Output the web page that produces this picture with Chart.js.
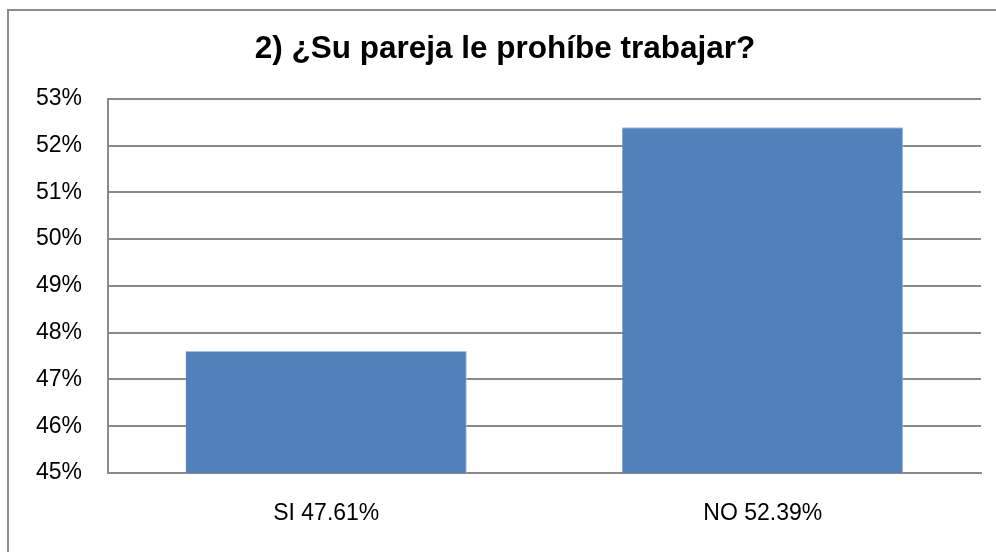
<!DOCTYPE html>
<html>
<head>
<meta charset="utf-8">
<script src="https://cdn.jsdelivr.net/npm/chart.js@4"></script>
<style>
  html, body { margin: 0; padding: 0; background: #fff; }
  #wrap { width: 996px; height: 552px; }
</style>
</head>
<body>
<div id="wrap"><canvas id="chart" width="996" height="552"></canvas></div>
<script>
const title = '2) ¿Su pareja le prohíbe trabajar?';
const categories = ['SI 47.61%', 'NO 52.39%'];
const values = [47.61, 52.39];
const yTicks = [45, 46, 47, 48, 49, 50, 51, 52, 53];

const tickFont = { family: "'Liberation Sans', Arial, sans-serif", size: 23 };
const gridColor = '#8a8a8a';

// outer frame of the chart (only left and top edges are inside the picture)
const frame = {
  id: 'frame',
  afterDraw(chart) {
    const ctx = chart.ctx;
    ctx.save();
    ctx.strokeStyle = '#8c8c8c';
    ctx.lineWidth = 2;
    ctx.strokeRect(8, 10, 1100, 1000);
    ctx.restore();
  }
};

const ctx = document.getElementById('chart').getContext('2d');
new Chart(ctx, {
  type: 'bar',
  data: {
    labels: categories,
    datasets: [{
      data: values,
      backgroundColor: '#4f81bd',
      borderColor: '#a9c1e3',
      borderWidth: { left: 0, right: 1, top: 1, bottom: 0 },
      barPercentage: 0.644,
      categoryPercentage: 1
    }]
  },
  options: {
    responsive: false,
    animation: false,
    layout: { padding: { top: 0, left: 14, right: 0, bottom: 0 } },
    plugins: {
      legend: { display: false },
      tooltip: { enabled: false },
      title: {
        display: true,
        text: title,
        color: '#000',
        font: { family: "'Liberation Sans', Arial, sans-serif", size: 31.5, weight: 'bold', lineHeight: 1.2 },
        padding: { top: 30, bottom: 31 }
      }
    },
    scales: {
      x: {
        grid: { display: false, drawTicks: false },
        border: { display: true, color: gridColor, width: 2 },
        ticks: { color: '#000', font: tickFont, padding: 27 },
        afterFit(scale) { scale.height = 79; }
      },
      y: {
        min: yTicks[0],
        max: yTicks[yTicks.length - 1],
        afterBuildTicks(scale) { scale.ticks = yTicks.map(v => ({ value: v })); },
        grid: { color: gridColor, lineWidth: 2, drawTicks: false },
        border: { display: true, color: gridColor, width: 2 },
        ticks: {
          color: '#000',
          font: tickFont,
          padding: 26,
          callback: v => v + '%'
        },
        afterFit(scale) { scale.width = 94; }
      },
      // empty right-hand margin so the title stays centred on the frame
      y2: {
        position: 'right',
        grid: { display: false, drawTicks: false },
        border: { display: false },
        ticks: { display: false },
        afterFit(scale) { scale.width = 15; }
      }
    }
  },
  plugins: [frame]
});
</script>
</body>
</html>
